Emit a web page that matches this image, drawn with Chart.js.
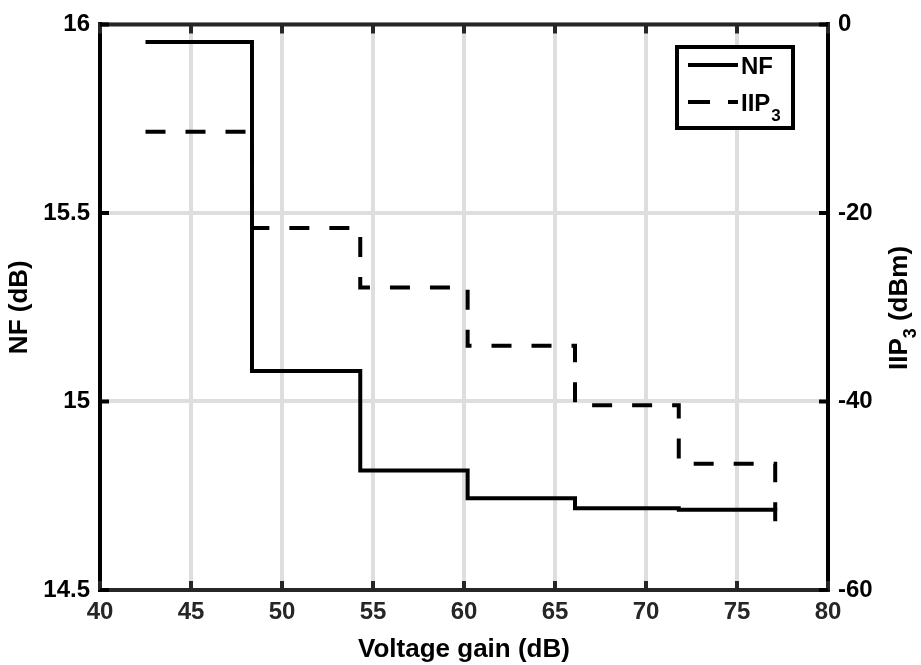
<!DOCTYPE html>
<html>
<head>
<meta charset="utf-8">
<script src="https://cdn.jsdelivr.net/npm/chart.js@4.4.1/dist/chart.umd.min.js"></script>
<style>
    html, body { margin: 0; padding: 0; background: #fff; }
    #wrap { width: 921px; height: 665px; }
</style>
</head>
<body>
<div id="wrap"><canvas id="gainChart" width="921" height="665"></canvas></div>
<script>
// ============================================
// NF / IIP3 vs voltage gain (stairs plot)
// ============================================

const gainSteps = [42.5, 48.35, 54.3, 60.2, 66.1, 71.8, 77.1];
const nfValues = [15.953, 15.081, 14.817, 14.743, 14.717, 14.713, 14.71];
const iip3Values = [-11.4, -21.6, -27.9, -34.1, -40.4, -46.6, -52.7];

const gainTicks = [40, 45, 50, 55, 60, 65, 70, 75, 80];
const nfTicks = [14.5, 15, 15.5, 16];
const iip3Ticks = [-60, -40, -20, 0];

const FONT = "'Liberation Sans', Arial, Helvetica, sans-serif";
const DARK = '#262626';
const GRID = '#dedede';

const toPoints = (ys) => gainSteps.map((x, i) => ({ x: x, y: ys[i] }));
const fixedTicks = (list) => (scale) => { scale.ticks = list.map(v => ({ value: v })); };

// axes box, inward ticks, legend and right label (with subscript)
const matlabFrame = {
    id: 'matlabFrame',
    afterDatasetsDraw(chart) {
        const { ctx, chartArea: a, scales } = chart;
        const tickLen = 9;
        ctx.save();
        ctx.lineWidth = 4;

        // top edge
        ctx.strokeStyle = DARK;
        ctx.beginPath();
        ctx.moveTo(a.left - 2, a.top);
        ctx.lineTo(a.right + 2, a.top);
        ctx.stroke();

        // x ticks (top + bottom)
        ctx.beginPath();
        gainTicks.forEach(v => {
            const px = scales.x.getPixelForValue(v);
            ctx.moveTo(px, a.bottom);
            ctx.lineTo(px, a.bottom - tickLen);
            ctx.moveTo(px, a.top);
            ctx.lineTo(px, a.top + tickLen);
        });
        ctx.stroke();

        // y ticks
        ctx.strokeStyle = '#000';
        ctx.beginPath();
        nfTicks.forEach(v => {
            const py = scales.y.getPixelForValue(v);
            ctx.moveTo(a.left, py);
            ctx.lineTo(a.left + tickLen, py);
        });
        iip3Ticks.forEach(v => {
            const py = scales.y2.getPixelForValue(v);
            ctx.moveTo(a.right, py);
            ctx.lineTo(a.right - tickLen, py);
        });
        ctx.stroke();

        // legend
        const lx = 677, ly = 47, lw = 116, lh = 81;
        ctx.fillStyle = '#fff';
        ctx.fillRect(lx, ly, lw, lh);
        ctx.strokeStyle = '#000';
        ctx.lineWidth = 4;
        ctx.strokeRect(lx, ly, lw, lh);

        ctx.beginPath();
        ctx.moveTo(688, 65);
        ctx.lineTo(738, 65);
        ctx.stroke();

        ctx.setLineDash([22, 18]);
        ctx.beginPath();
        ctx.moveTo(688, 102);
        ctx.lineTo(738, 102);
        ctx.stroke();
        ctx.setLineDash([]);

        ctx.fillStyle = '#000';
        ctx.textBaseline = 'alphabetic';
        ctx.textAlign = 'left';
        ctx.font = `bold 24px ${FONT}`;
        ctx.fillText('NF', 741, 74);
        ctx.fillText('IIP', 741, 111);
        const iipW = ctx.measureText('IIP').width;
        ctx.font = `bold 17px ${FONT}`;
        ctx.fillText('3', 741 + iipW + 1, 121);

        // right axis title: IIP3 (dBm)
        ctx.translate(907, 308);
        ctx.rotate(-Math.PI / 2);
        ctx.font = `bold 26px ${FONT}`;
        const w1 = ctx.measureText('IIP').width;
        const w3 = ctx.measureText(' (dBm)').width;
        ctx.font = `bold 18px ${FONT}`;
        const w2 = ctx.measureText('3').width;
        const x0 = -(w1 + w2 + w3) / 2;
        ctx.font = `bold 26px ${FONT}`;
        ctx.fillText('IIP', x0, 0);
        ctx.font = `bold 18px ${FONT}`;
        ctx.fillText('3', x0 + w1, 9);
        ctx.font = `bold 26px ${FONT}`;
        ctx.fillText(' (dBm)', x0 + w1 + w2, 0);

        ctx.restore();
    }
};

const ctx = document.getElementById('gainChart');

new Chart(ctx, {
    type: 'line',
    data: {
        datasets: [
            {
                label: 'NF',
                data: toPoints(nfValues),
                yAxisID: 'y',
                stepped: 'before',
                borderColor: '#000',
                borderWidth: 4,
                pointRadius: 0,
                fill: false
            },
            {
                label: 'IIP3',
                data: toPoints(iip3Values),
                yAxisID: 'y2',
                stepped: 'before',
                borderColor: '#000',
                borderWidth: 4,
                borderDash: [20, 20],
                pointRadius: 0,
                fill: false
            }
        ]
    },
    options: {
        responsive: false,
        animation: false,
        devicePixelRatio: 1,
        layout: { padding: { top: 15, left: 0, right: 0, bottom: 0 } },
        plugins: {
            legend: { display: false },
            tooltip: { enabled: false }
        },
        scales: {
            x: {
                type: 'linear',
                min: 40,
                max: 80,
                afterBuildTicks: fixedTicks(gainTicks),
                afterFit: (s) => { s.height = 75; },
                grid: { color: GRID, lineWidth: 4, drawTicks: false },
                border: { color: DARK, width: 4 },
                ticks: {
                    color: DARK,
                    padding: 8,
                    maxRotation: 0,
                    font: { family: FONT, size: 24, weight: 'bold' },
                    callback: (v) => String(v)
                },
                title: {
                    display: true,
                    text: 'Voltage gain (dB)',
                    color: '#000',
                    padding: { top: 2, bottom: 0 },
                    font: { family: FONT, size: 26, weight: 'bold' }
                }
            },
            y: {
                type: 'linear',
                position: 'left',
                min: 14.5,
                max: 16,
                afterBuildTicks: fixedTicks(nfTicks),
                afterFit: (s) => { s.width = 100; },
                grid: { color: GRID, lineWidth: 4, drawTicks: false },
                border: { color: '#000', width: 4 },
                ticks: {
                    color: '#000',
                    padding: 10,
                    font: { family: FONT, size: 24, weight: 'bold' },
                    callback: (v) => String(v)
                },
                title: {
                    display: true,
                    text: 'NF (dB)',
                    color: '#000',
                    padding: { top: 4, bottom: 0 },
                    font: { family: FONT, size: 26, weight: 'bold' }
                }
            },
            y2: {
                type: 'linear',
                position: 'right',
                min: -60,
                max: 0,
                afterBuildTicks: fixedTicks(iip3Ticks),
                afterFit: (s) => { s.width = 93; },
                grid: { display: false, drawTicks: false },
                border: { color: '#000', width: 4 },
                ticks: {
                    color: '#000',
                    padding: 10,
                    font: { family: FONT, size: 24, weight: 'bold' },
                    callback: (v) => String(v)
                }
            }
        }
    },
    plugins: [matlabFrame]
});
</script>
</body>
</html>
